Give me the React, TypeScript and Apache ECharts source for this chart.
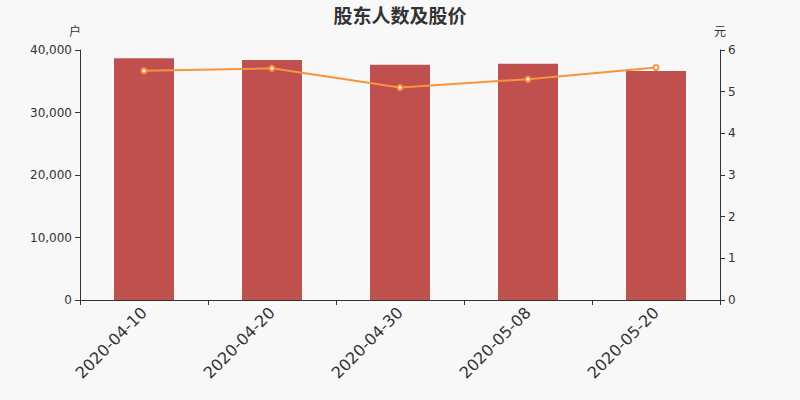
import { useEffect, useRef } from 'react';
import * as echarts from 'echarts';

const dates = ['2020-04-10', '2020-04-20', '2020-04-30', '2020-05-08', '2020-05-20'];
const holders = [38700, 38400, 37650, 37800, 36650];
const prices = [5.5, 5.56, 5.1, 5.3, 5.58];

const App = () => {
    const chartRef = useRef<HTMLDivElement>(null);

    useEffect(() => {
        document.body.style.margin = '0';
        if (!chartRef.current) return;
        const chart = echarts.init(chartRef.current, null, { renderer: 'svg' });
        const axisColor = '#333';
        chart.setOption({
            animation: false,
            backgroundColor: '#f8f8f8',
            textStyle: { fontFamily: '"DejaVu Sans", "Noto Sans CJK SC", sans-serif' },
            title: {
                text: '股东人数及股价',
                left: 'center',
                top: 1,
                textStyle: { fontSize: 19, fontWeight: 'bold', color: '#333' }
            },
            grid: { left: 80, right: 80, top: 50, bottom: 100 },
            xAxis: {
                type: 'category',
                data: dates,
                axisLine: { lineStyle: { color: axisColor } },
                axisTick: { show: true },
                axisLabel: { rotate: 45, fontSize: 16, color: '#333', margin: 10 }
            },
            yAxis: [
                {
                    type: 'value',
                    name: '户',
                    min: 0,
                    max: 40000,
                    interval: 10000,
                    nameTextStyle: { color: '#333', fontSize: 12, padding: [0, 0, 0, -10] },
                    nameGap: 12,
                    axisLine: { show: true, lineStyle: { color: axisColor } },
                    axisTick: { show: true },
                    splitLine: { show: false },
                    axisLabel: {
                        color: '#333',
                        fontSize: 12,
                        formatter: (v: number) => v.toLocaleString('en-US')
                    }
                },
                {
                    type: 'value',
                    name: '元',
                    min: 0,
                    max: 6,
                    interval: 1,
                    nameTextStyle: { color: '#333', fontSize: 12 },
                    nameGap: 12,
                    axisLine: { show: true, lineStyle: { color: axisColor } },
                    axisTick: { show: true },
                    splitLine: { show: false },
                    axisLabel: { color: '#333', fontSize: 12 }
                }
            ],
            series: [
                {
                    type: 'bar',
                    data: holders,
                    barWidth: 60,
                    itemStyle: { color: '#c0504e' }
                },
                {
                    type: 'line',
                    yAxisIndex: 1,
                    data: prices,
                    symbol: 'emptyCircle',
                    symbolSize: 5,
                    lineStyle: { color: '#f7953e', width: 2 },
                    itemStyle: { color: '#f7953e', borderWidth: 1 }
                }
            ]
        });
        return () => chart.dispose();
    }, []);

    return <div ref={chartRef} style={{ width: 800, height: 400 }} />;
};

export default App;
